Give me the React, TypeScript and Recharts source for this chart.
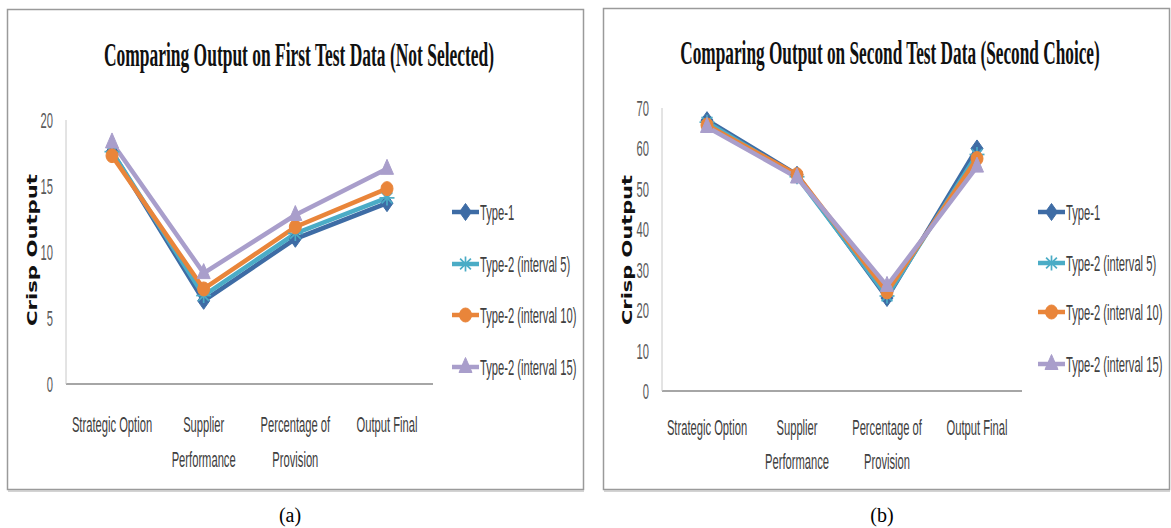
import React from "react";
import { LineChart, Line, XAxis, YAxis } from "recharts";

// ---------- data ----------
const categories = [
  "Strategic Option",
  "Supplier\nPerformance",
  "Percentage of\nProvision",
  "Output Final",
];

const seriesNames = [
  "Type-1",
  "Type-2 (interval 5)",
  "Type-2 (interval 10)",
  "Type-2 (interval 15)",
];

// Panel (a): First test data (Not Selected)
const firstType1 = [17.6, 6.3, 11.0, 13.7];
const firstType2i5 = [17.6, 6.7, 11.4, 14.1];
const firstType2i10 = [17.3, 7.2, 11.9, 14.8];
const firstType2i15 = [18.3, 8.4, 12.8, 16.3];

// Panel (b): Second test data (Second Choice)
const secondType1 = [67.0, 53.5, 23.0, 60.0];
const secondType2i5 = [66.5, 53.0, 23.5, 58.5];
const secondType2i10 = [65.8, 53.5, 24.5, 57.5];
const secondType2i15 = [65.3, 52.8, 26.0, 55.5];

const firstTicks = [0, 5, 10, 15, 20];
const secondTicks = [0, 10, 20, 30, 40, 50, 60, 70];

const titleA = "Comparing Output on First Test Data (Not Selected)";
const titleB = "Comparing Output on Second Test Data (Second Choice)";
const axisTitle = "Crisp Output";

// ---------- styling ----------
const COLORS = ["#3E6CA5", "#4BACC6", "#E9853A", "#A99ECB"];
const KEYS = ["s1", "s2", "s3", "s4"];
const SANS = "'Liberation Sans', Arial, sans-serif";
const SERIF = "'Liberation Serif', 'Times New Roman', serif";
const TXT_SCALE = "scale(0.56,1.12)";
const TXT_SIZE = 20;

function buildRows(a: number[], b: number[], c: number[], d: number[]) {
  return categories.map((cat, i) => ({ cat, s1: a[i], s2: b[i], s3: c[i], s4: d[i] }));
}

const dataA = buildRows(firstType1, firstType2i5, firstType2i10, firstType2i15);
const dataB = buildRows(secondType1, secondType2i5, secondType2i10, secondType2i15);

function Marker({ kind, cx, cy }: { kind: number; cx: number; cy: number }) {
  const color = COLORS[kind];
  if (kind === 0) {
    return (
      <polygon
        points={`${cx},${cy - 8.5} ${cx + 6},${cy} ${cx},${cy + 8.5} ${cx - 6},${cy}`}
        fill={color}
        stroke={color}
      />
    );
  }
  if (kind === 1) {
    const r = 7.5;
    const d = r * 0.72;
    return (
      <g stroke={color} strokeWidth={1.7}>
        <line x1={cx} y1={cy - r} x2={cx} y2={cy + r} />
        <line x1={cx - r} y1={cy} x2={cx + r} y2={cy} />
        <line x1={cx - d} y1={cy - d} x2={cx + d} y2={cy + d} />
        <line x1={cx - d} y1={cy + d} x2={cx + d} y2={cy - d} />
      </g>
    );
  }
  if (kind === 2) {
    return <ellipse cx={cx} cy={cy} rx={6} ry={7} fill={color} stroke={color} />;
  }
  return (
    <polygon
      points={`${cx},${cy - 9.5} ${cx + 6.5},${cy + 5.5} ${cx - 6.5},${cy + 5.5}`}
      fill={color}
      stroke={color}
    />
  );
}

const makeDot = (kind: number) => (props: any) => {
  const { cx, cy, index } = props;
  if (cx == null || cy == null) return <g key={`d${kind}-${index}`} />;
  return (
    <g key={`d${kind}-${index}`}>
      <Marker kind={kind} cx={cx} cy={cy} />
    </g>
  );
};

const YTick = (props: any) => {
  const { x, y, payload } = props;
  return (
    <g transform={`translate(${x - 13},${y + 8}) ${TXT_SCALE}`}>
      <text x={0} y={0} textAnchor="end" fontSize={TXT_SIZE} fontFamily={SANS} fill="#595959">
        {payload.value}
      </text>
    </g>
  );
};

const makeXTick = (d1: number, d2: number) => (props: any) => {
  const { x, y, payload } = props;
  const lines = String(payload.value).split("\n");
  return (
    <g>
      {lines.map((ln, i) => (
        <g key={i} transform={`translate(${x},${y + (i === 0 ? d1 : d2)}) ${TXT_SCALE}`}>
          <text x={0} y={0} textAnchor="middle" fontSize={TXT_SIZE} fontFamily={SANS} fill="#404040">
            {ln}
          </text>
        </g>
      ))}
    </g>
  );
};

function Legend({ lx, ys }: { lx: number; ys: number[] }) {
  return (
    <g>
      {seriesNames.map((name, i) => (
        <g key={name}>
          <line x1={lx} y1={ys[i]} x2={lx + 27} y2={ys[i]} stroke={COLORS[i]} strokeWidth={4.5} />
          <Marker kind={i} cx={lx + 13.5} cy={ys[i]} />
          <g transform={`translate(${lx + 28},${ys[i] + 8}) ${TXT_SCALE}`}>
            <text x={0} y={0} fontSize={TXT_SIZE} fontFamily={SANS} fill="#404040">
              {name}
            </text>
          </g>
        </g>
      ))}
    </g>
  );
}

function renderLines() {
  return KEYS.map((k, i) => (
    <Line
      key={k}
      type="linear"
      dataKey={k}
      name={seriesNames[i]}
      stroke={COLORS[i]}
      strokeWidth={4.5}
      dot={makeDot(i)}
      activeDot={false}
      isAnimationActive={false}
    />
  ));
}

export default function App() {
  return (
    <div
      style={{
        position: "absolute",
        left: 0,
        top: 0,
        width: 1171,
        height: 528,
        background: "#ffffff",
        overflow: "hidden",
      }}
    >
      <svg width={1171} height={528} style={{ position: "absolute", left: 0, top: 0 }}>
        {/* panel frames */}
        <rect x={7.5} y={9.5} width={576} height={480} fill="none" stroke="#9a9a9a" strokeWidth={1.5} />
        <line x1={8} y1={491} x2={584} y2={491} stroke="#c4c4c4" strokeWidth={1.5} />
        <rect x={603.5} y={8.5} width={566} height={481} fill="none" stroke="#9a9a9a" strokeWidth={1.5} />
        <line x1={604} y1={491} x2={1170} y2={491} stroke="#c4c4c4" strokeWidth={1.5} />

        {/* titles */}
        <g transform="translate(299,66) scale(0.563,1.1)">
          <text x={0} y={0} textAnchor="middle" fontFamily={SERIF} fontWeight="bold" fontSize={31} fill="#111">
            {titleA}
          </text>
        </g>
        <g transform="translate(890,64) scale(0.557,1.1)">
          <text x={0} y={0} textAnchor="middle" fontFamily={SERIF} fontWeight="bold" fontSize={31} fill="#111">
            {titleB}
          </text>
        </g>

        {/* axis titles */}
        <text
          transform="translate(32,250) rotate(-90)"
          textAnchor="middle"
          dominantBaseline="central"
          fontFamily="'DejaVu Sans', Verdana, sans-serif"
          fontWeight="bold"
          fontSize={13.5}
          textLength={152}
          lengthAdjust="spacingAndGlyphs"
          fill="#111"
        >
          {axisTitle}
        </text>
        <text
          transform="translate(627,250) rotate(-90)"
          textAnchor="middle"
          dominantBaseline="central"
          fontFamily="'DejaVu Sans', Verdana, sans-serif"
          fontWeight="bold"
          fontSize={13.5}
          textLength={150}
          lengthAdjust="spacingAndGlyphs"
          fill="#111"
        >
          {axisTitle}
        </text>

        {/* legends */}
        <Legend lx={452} ys={[212, 264, 315, 367]} />
        <Legend lx={1038} ys={[212, 263, 312, 364]} />

        {/* captions */}
        <text x={290} y={522} textAnchor="middle" fontFamily={SERIF} fontSize={20} fill="#000">
          (a)
        </text>
        <text x={882} y={522} textAnchor="middle" fontFamily={SERIF} fontSize={20} fill="#000">
          (b)
        </text>
      </svg>

      <div style={{ position: "absolute", left: 0, top: 0 }}>
        <LineChart width={585} height={528} data={dataA} margin={{ top: 120, right: 152, bottom: 44, left: 0 }}>
          <XAxis
            dataKey="cat"
            interval={0}
            height={100}
            padding={{ left: 46, right: 46 }}
            tickSize={0}
            tickMargin={0}
            tickLine={false}
            axisLine={{ stroke: "#a6a6a6", strokeWidth: 1.8 }}
            tick={makeXTick(48, 83)}
          />
          <YAxis
            width={66}
            domain={[0, 20]}
            ticks={firstTicks}
            tickSize={0}
            tickMargin={0}
            tickLine={false}
            axisLine={{ stroke: "#c8c8c8", strokeWidth: 1 }}
            tick={<YTick />}
            interval={0}
          />
          {renderLines()}
        </LineChart>
      </div>

      <div style={{ position: "absolute", left: 590, top: 0 }}>
        <LineChart width={581} height={528} data={dataB} margin={{ top: 108, right: 149, bottom: 37, left: 0 }}>
          <XAxis
            dataKey="cat"
            interval={0}
            height={100}
            padding={{ left: 45, right: 45 }}
            tickSize={0}
            tickMargin={0}
            tickLine={false}
            axisLine={{ stroke: "#a6a6a6", strokeWidth: 1.8 }}
            tick={makeXTick(44, 78)}
          />
          <YAxis
            width={72}
            domain={[0, 70]}
            ticks={secondTicks}
            tickSize={0}
            tickMargin={0}
            tickLine={false}
            axisLine={{ stroke: "#c8c8c8", strokeWidth: 1 }}
            tick={<YTick />}
            interval={0}
          />
          {renderLines()}
        </LineChart>
      </div>
    </div>
  );
}
